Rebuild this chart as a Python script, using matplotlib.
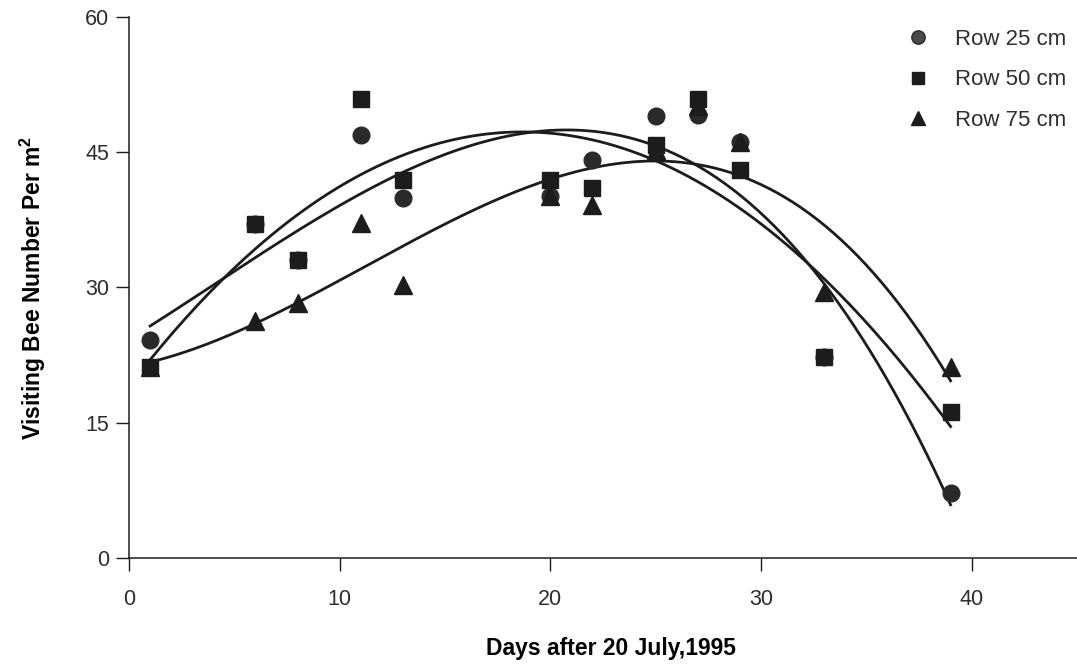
import matplotlib
matplotlib.use("Agg")
import matplotlib.pyplot as plt
import numpy as np

plt.rcParams['font.family'] = ['Liberation Sans', 'DejaVu Sans']

# sampling days after 20 July 1995
days = [1, 6, 8, 11, 13, 20, 22, 25, 27, 29, 33, 39]

# visiting bees per m2
row25 = [24.2, 37.0, 33.0, 46.9, 39.9, 40.2, 44.1, 49.0, 49.1, 46.1, 22.3, 7.2]
row50 = [21.2, 37.0, 33.0, 50.9, 41.9, 41.9, 41.0, 45.8, 50.9, 43.0, 22.3, 16.2]
row75 = [21.2, 26.3, 28.3, 37.1, 30.3, 40.2, 39.1, 45.2, 50.1, 46.1, 29.5, 21.2]

labels = ['Row 25 cm', 'Row 50 cm', 'Row 75 cm']
yticks = [0, 15, 30, 45, 60]
xticks = [0, 10, 20, 30, 40]

ink = '#1c1c1c'
txt = '#2e2e2e'

fig = plt.figure(figsize=(10.77, 6.66), dpi=100)
ax = fig.add_axes([0.1198, 0.1622, 0.8802, 0.8123])

# fitted trend lines (cubic)
xx = np.linspace(days[0], days[-1], 200)
for ys in (row25, row50, row75):
	cf = np.polyfit(days, ys, 3)
	ax.plot(xx, np.polyval(cf, xx), color=ink, lw=2.0, zorder=2)

ax.plot(days, row25, 'o', ms=12, color='#2a2a2a', mec='#2a2a2a', ls='none', label=labels[0], zorder=3)
ax.plot(days, row50, 's', ms=11.5, color=ink, mec=ink, ls='none', label=labels[1], zorder=4)
ax.plot(days, row75, '^', ms=13, color=ink, mec=ink, ls='none', label=labels[2], zorder=5)

ax.set_xlim(0, 45)
ax.set_ylim(0, 60)
ax.set_xticks(xticks)
ax.set_yticks(yticks)

for s in ['top', 'right']:
	ax.spines[s].set_visible(False)
for s in ['left', 'bottom']:
	ax.spines[s].set_color(ink)
	ax.spines[s].set_linewidth(1.1)

ax.tick_params(axis='both', direction='out', length=9.5, width=1.0, color=ink, labelcolor=txt, labelsize=15.5)
ax.tick_params(axis='x', pad=13)
ax.tick_params(axis='y', pad=5)

ax.set_xlabel('Days after 20 July,1995', fontsize=16.5, fontweight='bold', color='black')
ax.set_ylabel('Visiting Bee Number Per m$^{\\mathregular{2}}$', fontsize=16.5, fontweight='bold', color='black')
ax.xaxis.set_label_coords(0.508, -0.146)
ax.yaxis.set_label_coords(-0.085, 0.5)

leg = ax.legend(loc='upper left', bbox_to_anchor=(0.7994, 1.015), frameon=False, fontsize=16,
	markerscale=0.8, handletextpad=1.17, labelspacing=0.875, handlelength=1.0)
for t in leg.get_texts():
	t.set_color(txt)
leg.legend_handles[0].set_color('#4a4a4a')

fig.savefig('out.png', dpi=100)
